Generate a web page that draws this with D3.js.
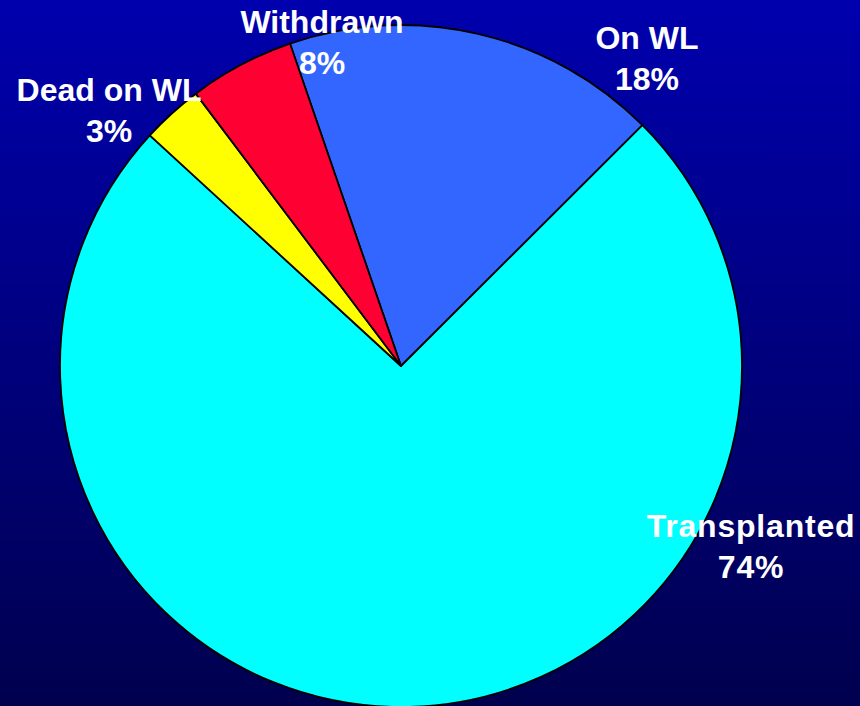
<!DOCTYPE html>
<html>
<head>
<meta charset="utf-8">
<script src="https://cdn.jsdelivr.net/npm/d3@7"></script>
<style>
  html, body { margin: 0; padding: 0; overflow: hidden; }
  svg { display: block; }
  .lbl { font-family: "Liberation Sans", Arial, sans-serif; font-weight: bold; font-size: 32px; fill: #fff; }
</style>
</head>
<body>
<div id="chart"></div>
<script>
// slice order is clockwise from the On WL / Withdrawn edge
const categories = ['On WL', 'Transplanted', 'Dead on WL', 'Withdrawn'];
const values = [17.8, 74.3, 2.9, 5.0];
const pctLabels = ['18%', '74%', '3%', '8%'];
const colors = ['#3366ff', '#00ffff', '#ffff00', '#ff0033'];

const width = 860, height = 706;
const cx = 401, cy = 366, radius = 341;

// label offsets from the pie centre
const labelPos = [[246, -297], [350, 191], [-292, -245], [-79, -313]];

const svg = d3.select('#chart').append('svg')
  .attr('width', width)
  .attr('height', height);

const grad = svg.append('defs').append('linearGradient')
  .attr('id', 'bg')
  .attr('x1', 0).attr('y1', 0).attr('x2', 0).attr('y2', 1);
grad.append('stop').attr('offset', '0%').attr('stop-color', '#0000ae');
grad.append('stop').attr('offset', '100%').attr('stop-color', '#00004e');

svg.append('rect')
  .attr('width', width)
  .attr('height', height)
  .attr('fill', 'url(#bg)');

const pie = d3.pie()
  .sort(null)
  .startAngle(-19 * Math.PI / 180)
  .endAngle(341 * Math.PI / 180);

const arc = d3.arc().innerRadius(0).outerRadius(radius);

const g = svg.append('g').attr('transform', `translate(${cx},${cy})`);

g.selectAll('path.slice')
  .data(pie(values))
  .enter()
  .append('path')
  .attr('class', 'slice')
  .attr('d', arc)
  .attr('fill', (d, i) => colors[i])
  .attr('stroke', '#000')
  .attr('stroke-width', 1.8)
  .attr('stroke-linejoin', 'round');

const labels = g.selectAll('text.lbl')
  .data(categories)
  .enter()
  .append('text')
  .attr('class', 'lbl')
  .attr('text-anchor', 'middle')
  .attr('transform', (d, i) => `translate(${labelPos[i][0]},${labelPos[i][1]})`)
  .attr('letter-spacing', (d) => d === 'Transplanted' ? 0.8 : 0);

labels.append('tspan')
  .attr('x', 0)
  .attr('y', -20)
  .text((d) => d);

labels.append('tspan')
  .attr('x', 0)
  .attr('y', 21)
  .text((d, i) => pctLabels[i]);
</script>
</body>
</html>
